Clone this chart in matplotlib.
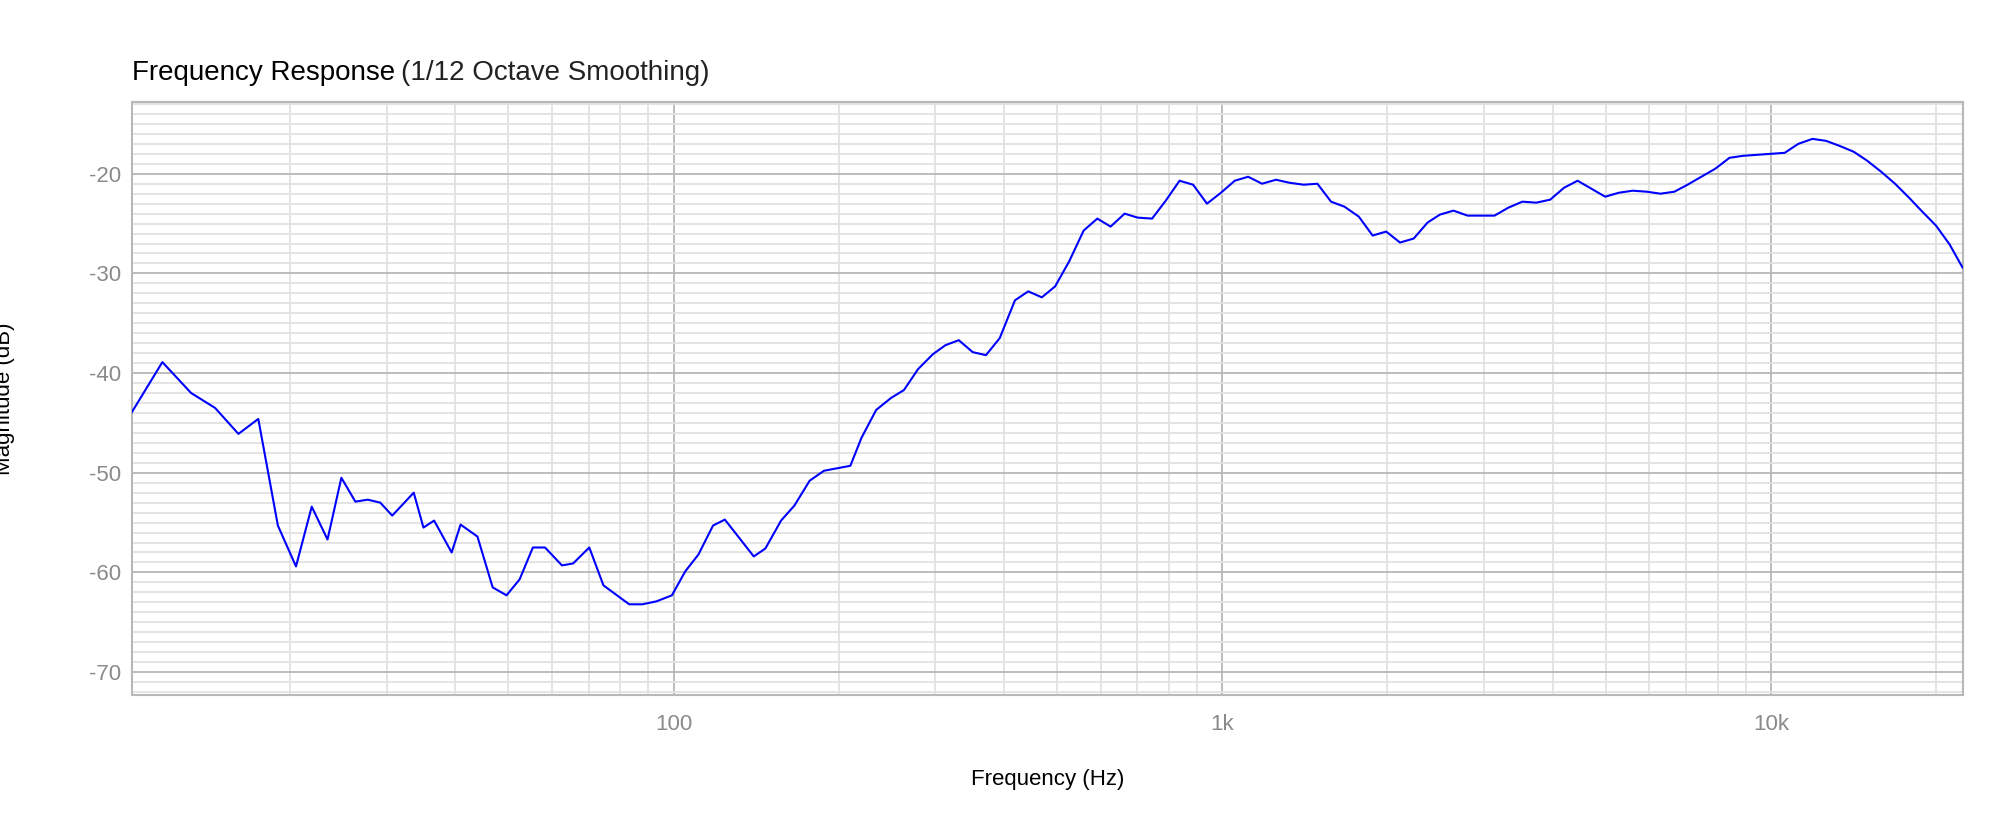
import numpy as np
import matplotlib.pyplot as plt
from matplotlib.ticker import FixedLocator, NullFormatter

# frequency response (Hz, dB)
freq_hz = [
    10.3, 11.7, 13.2, 14.6, 16.1, 17.5, 19.0, 20.5, 21.9, 23.4, 24.8, 26.3,
    27.7, 29.2, 30.7, 33.6, 35.0, 36.6, 39.4, 40.9, 43.9, 46.8, 49.6, 52.4,
    55.4, 58.3, 62.6, 65.6, 70.2, 74.5, 83.0, 87.7, 93.1, 99.3, 105, 111,
    118, 124, 132, 140, 147, 157, 166, 177, 188, 210, 220, 234,
    249, 263, 279, 297, 313, 331, 351, 371, 393, 419, 443, 469,
    496, 526, 559, 592, 626, 664, 701, 745, 789, 836, 885, 938,
    995, 1054, 1115, 1182, 1253, 1325, 1408, 1491, 1579, 1670, 1774, 1880,
    1990, 2109, 2234, 2367, 2493, 2639, 2800, 3136, 3324, 3525, 3736, 3961,
    4199, 4444, 4989, 5288, 5602, 5939, 6295, 6670, 7050, 7469, 7917, 8406,
    8897, 9433, 10000, 10600, 11220, 11910, 12610, 13340, 14170, 14990, 15890, 16840,
    17860, 18880, 20000, 21180, 22350,
]
magnitude_db = [
    -43.9, -38.9, -42.0, -43.5, -46.1, -44.6, -55.3, -59.4, -53.4, -56.7, -50.5, -52.9,
    -52.7, -53.0, -54.3, -52.0, -55.5, -54.8, -58.0, -55.2, -56.4, -61.5, -62.3, -60.7,
    -57.5, -57.5, -59.3, -59.1, -57.5, -61.3, -63.2, -63.2, -62.9, -62.3, -59.9, -58.2,
    -55.3, -54.7, -56.6, -58.4, -57.6, -54.8, -53.3, -50.8, -49.8, -49.3, -46.5, -43.7,
    -42.5, -41.7, -39.6, -38.1, -37.2, -36.7, -37.9, -38.2, -36.5, -32.7, -31.8, -32.4,
    -31.3, -28.8, -25.7, -24.5, -25.3, -24.0, -24.4, -24.5, -22.7, -20.7, -21.1, -23.0,
    -21.9, -20.7, -20.3, -21.0, -20.6, -20.9, -21.1, -21.0, -22.8, -23.3, -24.3, -26.2,
    -25.8, -26.9, -26.5, -24.9, -24.1, -23.7, -24.2, -24.2, -23.4, -22.8, -22.9, -22.6,
    -21.4, -20.7, -22.3, -21.9, -21.7, -21.8, -22.0, -21.8, -21.1, -20.3, -19.5, -18.4,
    -18.2, -18.1, -18.0, -17.9, -17.0, -16.5, -16.7, -17.2, -17.8, -18.7, -19.8, -21.0,
    -22.4, -23.8, -25.2, -27.1, -29.4,
]
x_ticks = [100, 1000, 10000]
x_tick_labels = ["100", "1k", "10k"]
y_ticks = [-70, -60, -50, -40, -30, -20]

plt.rcParams["font.family"] = "Liberation Sans"

fig = plt.figure(figsize=(20.02, 8.34), dpi=100)
ax = fig.add_axes([132 / 2002, 1 - 695 / 834, (1963 - 132) / 2002, (695 - 102) / 834])

ax.plot(freq_hz, magnitude_db, color="#0000ff", lw=1.5, zorder=3)

ax.set_xscale("log")
ax.set_xlim(10.3, 22400)
ax.set_ylim(-72.3, -12.8)

minor_x = [m * 10 ** e for e in range(1, 5) for m in range(2, 10)]
ax.xaxis.set_major_locator(FixedLocator(x_ticks))
ax.set_xticks(x_ticks, x_tick_labels)
ax.xaxis.set_minor_locator(FixedLocator(minor_x))
ax.xaxis.set_minor_formatter(NullFormatter())
ax.set_yticks(y_ticks, [str(v) for v in y_ticks])
ax.yaxis.set_minor_locator(FixedLocator(np.arange(-72, -12, 1)))

ax.grid(which="major", color="#b8b8b8", lw=1.3)
ax.grid(which="minor", color="#e2e2e2", lw=1.3)
ax.set_axisbelow(True)
ax.tick_params(which="both", length=0, labelsize=16, labelcolor="#8a8a8a")
ax.tick_params(axis="y", pad=8)
ax.tick_params(axis="x", pad=14)
for s in ax.spines.values():
    s.set_color("#b8b8b8")
    s.set_linewidth(1.5)

ax.set_xlabel("Frequency (Hz)", fontsize=16, labelpad=24)
ax.set_ylabel("Magnitude (dB)", fontsize=16)
ax.yaxis.set_label_coords(-0.064, 0.5)

# two-weight title
t1 = fig.text(132 / 2002, 1 - 80 / 834, "Frequency Response", fontsize=20,
              fontweight="medium", va="baseline")
fig.canvas.draw()
bb = t1.get_window_extent()
fig.text(bb.x1 / 2002 + 0.003, 1 - 80 / 834, "(1/12 Octave Smoothing)",
         fontsize=20, va="baseline", color="#222222")

fig.savefig("out.png", dpi=100)
